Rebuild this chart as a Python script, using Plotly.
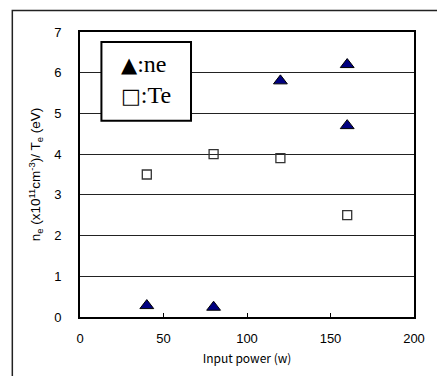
import plotly.graph_objects as go

# Data
ne_power = [40, 80, 120, 160, 160]
ne_values = [0.28, 0.24, 5.8, 6.2, 4.7]
te_power = [40, 80, 120, 160]
te_values = [3.5, 4.0, 3.9, 2.5]

x_ticks = [0, 50, 100, 150, 200]
y_ticks = [0, 1, 2, 3, 4, 5, 6, 7]

fig = go.Figure()
fig.add_trace(go.Scatter(
    x=ne_power, y=ne_values, mode="markers", name="ne",
    marker=dict(symbol="triangle-up", size=12, color="#000080",
                line=dict(color="#000000", width=1)),
    showlegend=False,
))
fig.add_trace(go.Scatter(
    x=te_power, y=te_values, mode="markers", name="Te",
    marker=dict(symbol="square-open", size=9, color="#333333",
                line=dict(width=1.3)),
    showlegend=False,
))

# paper-coord helpers (plot area 80..423 x, 32..318 y)
def px(v):
    return (v - 80) / 343.0

def py(v):
    return (318 - v) / 286.0

shapes = [
    # outer frame (top/left visible)
    dict(type="rect", xref="paper", yref="paper",
         x0=px(10.5), y0=py(600), x1=px(700), y1=py(10.5),
         line=dict(color="#222222", width=1.5), layer="below"),
    # legend box
    dict(type="rect", xref="paper", yref="paper",
         x0=px(102), y0=py(121), x1=px(194), y1=py(42),
         line=dict(color="#000000", width=2), fillcolor="white", layer="above"),
]

annotations = [
    dict(xref="paper", yref="paper", x=px(120), y=py(64), xanchor="left", yanchor="middle",
         text="<span style='font-family:DejaVu Sans;font-size:21px'>▲</span>:ne", showarrow=False,
         font=dict(family="Liberation Serif", size=24, color="black")),
    dict(xref="paper", yref="paper", x=px(120), y=py(95), xanchor="left", yanchor="middle",
         text="<span style='font-family:DejaVu Sans;font-size:21px'>□</span>:Te", showarrow=False,
         font=dict(family="Liberation Serif", size=24, color="black")),
]

fig.update_layout(
    width=437, height=376,
    margin=dict(l=80, r=14, t=32, b=58),
    paper_bgcolor="white", plot_bgcolor="white",
    shapes=shapes, annotations=annotations,
    font=dict(family="Liberation Sans", size=13, color="black"),
    xaxis=dict(
        range=[0, 200], tickvals=x_ticks, ticktext=[str(t) for t in x_ticks],
        showline=True, linecolor="black", linewidth=2, mirror=True,
        ticks="inside", ticklen=4, tickcolor="black", showgrid=False, zeroline=False,
        ticklabelstandoff=8, tickfont=dict(size=13),
        title=dict(text="Input power (w)", standoff=10,
                   font=dict(family="Noto Sans CJK JP", size=12)),
    ),
    yaxis=dict(
        range=[0, 7], tickvals=y_ticks, ticktext=[str(t) for t in y_ticks],
        showline=True, linecolor="black", linewidth=2, mirror=True,
        ticks="", showgrid=True, gridcolor="#222222", gridwidth=1, zeroline=False,
        ticklabelstandoff=14, tickfont=dict(size=13),
        title=dict(text="n<sub>e</sub> (x10<sup>11</sup>cm<sup>-3</sup>)/ T<sub>e</sub> (eV)",
                   standoff=10, font=dict(family="Liberation Sans", size=13.5)),
    ),
)

fig.write_html("out.html")
